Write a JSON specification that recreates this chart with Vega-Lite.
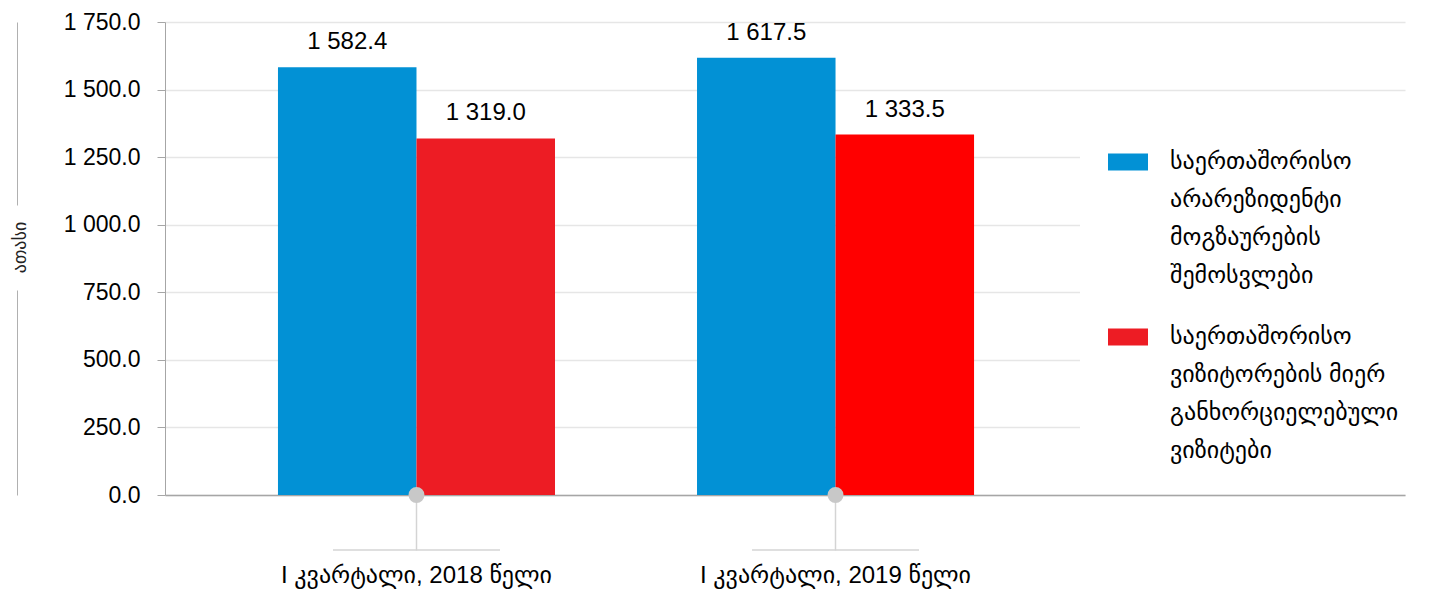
{
  "$schema": "https://vega.github.io/schema/vega-lite/v6.json",
  "autosize": {"type": "none"},
  "width": 1240,
  "height": 473,
  "padding": {"left": 165, "top": 22, "right": 27, "bottom": 101},
  "background": "white",
  "config": {
    "font": "Liberation Sans, DejaVu Sans",
    "locale": {"number": {"decimal": ".", "thousands": " ", "grouping": [3], "currency": ["", ""]}},
    "view": {"stroke": null},
    "style": {"guide-label": {"lineHeight": 38}}
  },
  "data": {
    "values": [
      {"period": "I კვარტალი, 2018 წელი", "series": "საერთაშორისო არარეზიდენტი მოგზაურების შემოსვლები", "value": 1582.4},
      {"period": "I კვარტალი, 2018 წელი", "series": "საერთაშორისო ვიზიტორების მიერ განხორციელებული ვიზიტები", "value": 1319.0},
      {"period": "I კვარტალი, 2019 წელი", "series": "საერთაშორისო არარეზიდენტი მოგზაურების შემოსვლები", "value": 1617.5},
      {"period": "I კვარტალი, 2019 წელი", "series": "საერთაშორისო ვიზიტორების მიერ განხორციელებული ვიზიტები", "value": 1333.5}
    ]
  },
  "resolve": {"scale": {"y": "independent"}},
  "layer": [
    {
      "encoding": {
        "x": {
          "field": "period", "type": "nominal", "sort": null,
          "scale": {"paddingInner": 0.3389, "paddingOuter": 0.649, "align": 0.2077},
          "axis": {
            "title": null, "labelAngle": 0, "labelFontSize": 24, "labelColor": "#000",
            "labelPadding": 13, "labelLimit": 0, "domainColor": "#a6a6a6", "domainWidth": 1.5,
            "tickSize": 55, "tickColor": "#d4d4d4", "tickWidth": 1.5, "grid": false
          }
        }
      },
      "layer": [
        {
          "mark": {"type": "bar"},
          "encoding": {
            "xOffset": {"field": "series", "type": "nominal", "sort": null, "scale": {"paddingInner": 0, "paddingOuter": 0}},
            "y": {
              "field": "value", "type": "quantitative",
              "scale": {"domain": [0, 1750], "nice": false, "zero": true},
              "axis": {
                "title": null, "values": [0, 250, 500, 750, 1000, 1250, 1500, 1750],
                "format": ",.1f", "labelFontSize": 23, "labelColor": "#000", "labelPadding": 17,
                "tickSize": 8, "tickColor": "#a6a6a6", "domainColor": "#a6a6a6",
                "gridColor": "#e6e6e6", "gridWidth": 1.5
              }
            },
            "color": {
              "field": "series", "type": "nominal", "sort": null,
              "condition": {"test": "datum.period == 'I კვარტალი, 2019 წელი' && datum.series == 'საერთაშორისო ვიზიტორების მიერ განხორციელებული ვიზიტები'", "value": "#FF0000"},
              "scale": {"range": ["#0291D5", "#ED1C24"]},
              "legend": {
                "orient": "none", "legendX": 915, "legendY": 92, "title": null,
                "fillColor": "white", "padding": 28, "direction": "vertical",
                "symbolType": "M-1,-0.42H1V0.42H-1Z", "symbolSize": 1600, "symbolStrokeWidth": 0,
                "labelFontSize": 24, "labelOffset": 22, "labelLimit": 400, "rowPadding": 29,
                "labelColor": "#000",
                "labelExpr": "datum.value == 'საერთაშორისო არარეზიდენტი მოგზაურების შემოსვლები' ? ['საერთაშორისო','არარეზიდენტი','მოგზაურების','შემოსვლები'] : ['საერთაშორისო','ვიზიტორების მიერ','განხორციელებული','ვიზიტები']"
              }
            }
          }
        },
        {
          "mark": {"type": "text", "baseline": "alphabetic", "dy": -18, "fontSize": 24, "color": "#000"},
          "encoding": {
            "xOffset": {"field": "series", "type": "nominal", "sort": null, "scale": {"paddingInner": 0, "paddingOuter": 0}},
            "y": {"field": "value", "type": "quantitative"},
            "text": {"field": "value", "type": "quantitative", "format": ",.1f"}
          }
        },
        {
          "transform": [{"filter": "datum.series == 'საერთაშორისო არარეზიდენტი მოგზაურების შემოსვლები'"}],
          "mark": {"type": "tick", "orient": "horizontal", "size": 167, "thickness": 1.5, "color": "#d4d4d4", "opacity": 1},
          "encoding": {"y": {"datum": -203.5, "type": "quantitative"}}
        },
        {
          "transform": [{"filter": "datum.series == 'საერთაშორისო არარეზიდენტი მოგზაურების შემოსვლები'"}],
          "mark": {"type": "point", "filled": true, "size": 254, "color": "#c8c8c8", "opacity": 1},
          "encoding": {"y": {"datum": 0, "type": "quantitative"}}
        }
      ]
    },
    {
      "mark": {"type": "point", "opacity": 0},
      "encoding": {
        "y": {
          "datum": 0, "type": "quantitative",
          "scale": {"domain": [0, 1750], "nice": false},
          "axis": {
            "orient": "left", "offset": 148, "title": "ათასი", "labels": false, "ticks": false, "grid": false,
            "domainColor": "#b0b0b0", "domainDash": [205, 85, 1000],
            "titleAngle": -90, "titleAlign": "center", "titleBaseline": "middle",
            "titleX": 3, "titleY": 225, "titleFontSize": 18, "titleFontWeight": "normal", "titleColor": "#222"
          }
        }
      }
    }
  ]
}
